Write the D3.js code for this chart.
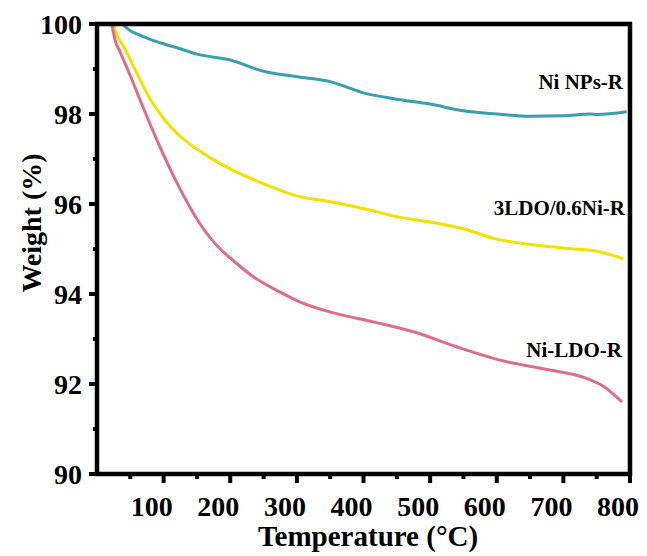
<!DOCTYPE html>
<html>
<head>
<meta charset="utf-8">
<script src="https://cdn.jsdelivr.net/npm/d3@7"></script>
<style>
  body { margin: 0; background: #fff; }
  text { font-family: "Liberation Serif", "Times New Roman", serif; font-weight: bold; }
</style>
</head>
<body>
<svg width="647" height="556"></svg>
<script>
// TGA curves, temperature (C) vs weight (%)
var niNpsT = [38, 50, 60, 80, 100, 125, 150, 200, 250, 300, 350, 400, 450, 500, 550, 600, 650, 700, 740, 750, 795];
var niNpsW = [100.0, 99.85, 99.78, 99.66, 99.56, 99.45, 99.33, 99.2, 98.95, 98.83, 98.72, 98.47, 98.33, 98.22, 98.07, 98.0, 97.95, 97.96, 98.0, 97.99, 98.05];

var ldo06T = [24, 30, 40, 60, 80, 100, 125, 150, 175, 200, 250, 300, 350, 400, 450, 500, 550, 600, 650, 700, 750, 790];
var ldo06W = [100, 99.75, 99.5, 98.9, 98.33, 97.9, 97.5, 97.22, 96.98, 96.78, 96.45, 96.18, 96.05, 95.9, 95.72, 95.6, 95.45, 95.22, 95.1, 95.02, 94.95, 94.78];

var niLdoT = [22, 28, 34, 50, 65, 90, 120, 155, 185, 200, 235, 270, 305, 355, 415, 475, 545, 605, 680, 730, 760, 788];
var niLdoW = [100, 99.6, 99.4, 98.85, 98.3, 97.42, 96.47, 95.55, 95.0, 94.8, 94.38, 94.08, 93.82, 93.58, 93.38, 93.16, 92.8, 92.53, 92.31, 92.15, 91.95, 91.6];

var xTicks = [100, 200, 300, 400, 500, 600, 700, 800];
var yTicks = [90, 92, 94, 96, 98, 100];
var labels = ["Ni NPs-R", "3LDO/0.6Ni-R", "Ni-LDO-R"];

var svg = d3.select("svg");
var pL = 97, pR = 630, pT = 24, pB = 474;

var xs = d3.scaleLinear().domain([0, 800]).range([pL, pR]);
var ys = d3.scaleLinear().domain([90, 100]).range([pB, pT]);

var series = [
  {t: niNpsT, w: niNpsW, color: "#3a9eae", label: labels[0], lx: 623, ly: 89},
  {t: ldo06T, w: ldo06W, color: "#f2e100", label: labels[1], lx: 625, ly: 215},
  {t: niLdoT, w: niLdoW, color: "#dd6e86", label: labels[2], lx: 622, ly: 357}
];

var line = d3.line()
    .x(function(d){return xs(d[0])})
    .y(function(d){return ys(d[1])})
    .curve(d3.curveMonotoneX);

series.forEach(function(s){
  var pts = s.t.map(function(t, i){return [t, s.w[i]]});
  svg.append("path")
    .attr("d", line(pts))
    .attr("fill", "none")
    .attr("stroke", s.color)
    .attr("stroke-width", 3);
  svg.append("text")
    .attr("x", s.lx).attr("y", s.ly)
    .attr("text-anchor", "end")
    .attr("font-size", 21)
    .text(s.label);
});

// minor ticks
var xMinor = d3.range(50, 800, 100);
var yMinor = [91, 93, 95, 97, 99];

var gx = svg.append("g").attr("transform", "translate(0," + pB + ")");
gx.selectAll(".maj").data(xTicks).enter().append("line")
    .attr("x1", xs).attr("x2", xs).attr("y1", 0).attr("y2", 9)
    .attr("stroke", "#000").attr("stroke-width", 4);
gx.selectAll(".min").data(xMinor).enter().append("line")
    .attr("x1", xs).attr("x2", xs).attr("y1", 0).attr("y2", 5)
    .attr("stroke", "#000").attr("stroke-width", 4);
gx.selectAll("text").data(xTicks).enter().append("text")
    .attr("x", function(d){return xs(d) - 12})
    .attr("y", 42)
    .attr("text-anchor", "middle")
    .attr("font-size", 28)
    .text(function(d){return d});

var gy = svg.append("g").attr("transform", "translate(" + pL + ",0)");
gy.selectAll(".maj").data(yTicks).enter().append("line")
    .attr("x1", -8).attr("x2", 0).attr("y1", ys).attr("y2", ys)
    .attr("stroke", "#000").attr("stroke-width", 4);
gy.selectAll(".min").data(yMinor).enter().append("line")
    .attr("x1", -4).attr("x2", 0).attr("y1", ys).attr("y2", ys)
    .attr("stroke", "#000").attr("stroke-width", 4);
gy.selectAll("text").data(yTicks).enter().append("text")
    .attr("x", -15)
    .attr("y", function(d){return ys(d) + 10})
    .attr("text-anchor", "end")
    .attr("font-size", 28)
    .text(function(d){return d});

// frame
svg.append("rect")
    .attr("x", pL).attr("y", pT)
    .attr("width", pR - pL).attr("height", pB - pT)
    .attr("fill", "none").attr("stroke", "#000").attr("stroke-width", 4.5);

svg.append("text")
    .attr("x", 368).attr("y", 546)
    .attr("text-anchor", "middle")
    .attr("font-size", 29)
    .text("Temperature (°C)");

svg.append("text")
    .attr("transform", "translate(41,223) rotate(-90)")
    .attr("text-anchor", "middle")
    .attr("font-size", 28)
    .text("Weight (%)");
</script>
</body>
</html>
